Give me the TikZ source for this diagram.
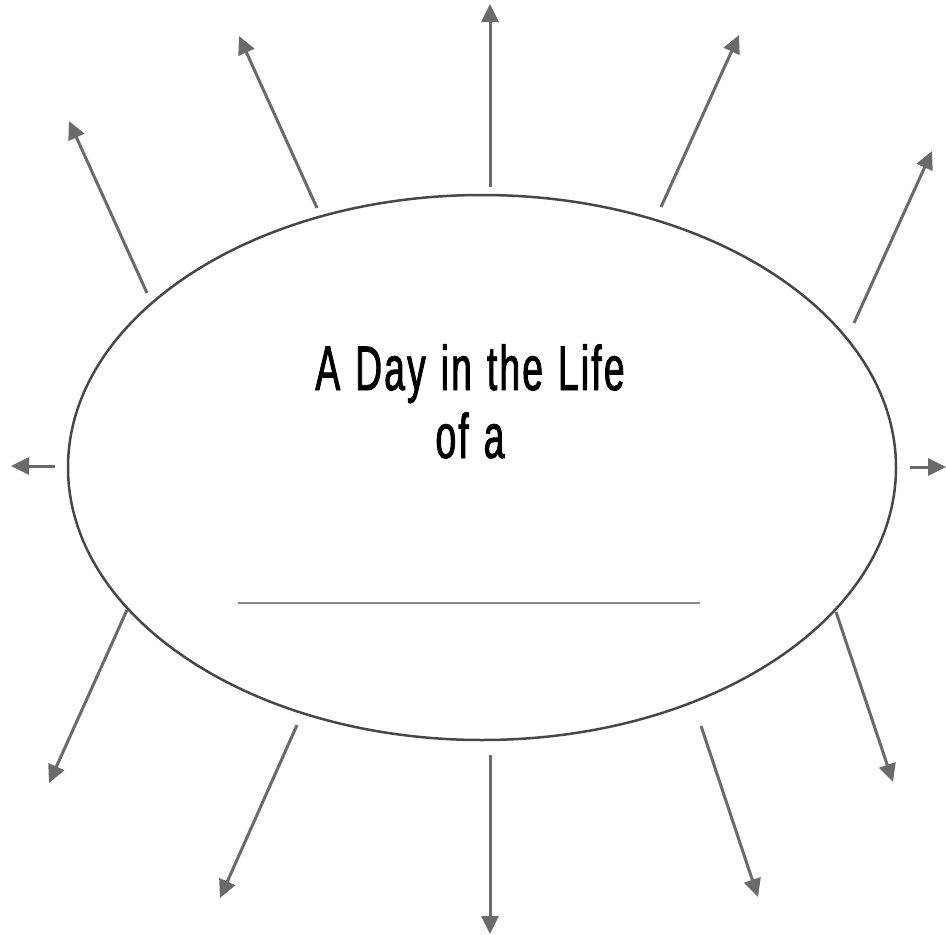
\documentclass[tikz,border=0pt]{standalone}
\usepackage{fontspec}
\setmainfont{Liberation Sans}[FakeStretch=0.59,FakeBold=1.4,LetterSpace=3.5,WordSpace=1.2]
\usetikzlibrary{arrows.meta,shapes.geometric}
\definecolor{arrowgray}{HTML}{6A6A6A}
\definecolor{ringgray}{HTML}{474747}
\definecolor{linegray}{HTML}{8A8A8A}
\begin{document}
\begin{tikzpicture}[x=1pt,y=-1pt,
  ray/.style={draw=arrowgray,line width=3pt,-{Triangle[length=18pt,width=17pt]}},
  title/.style={font=\fontsize{63}{68}\selectfont,anchor=base,inner sep=0}]
\useasboundingbox (0,0) rectangle (946,935);
\node[draw=ringgray,line width=2.5pt,ellipse,minimum width=828pt,minimum height=545pt,inner sep=0] (e) at (482,467.5) {};
\node[title] (t1) at (470,390) {A Day in the Life};
\node[title] (t2) at (470,458) {of a};
\coordinate (u1) at (238,603);
\coordinate (u2) at (700,603);
\draw[linegray,line width=1.6pt] (u1) -- (u2);
% rays
\coordinate (s1) at (490,187);  \coordinate (e1) at (490,4);
\coordinate (s2) at (317,208);  \coordinate (e2) at (239,36);
\coordinate (s3) at (147,293);  \coordinate (e3) at (69,121);
\coordinate (s4) at (55,466);   \coordinate (e4) at (11,466);
\coordinate (s5) at (661,207);  \coordinate (e5) at (739,35);
\coordinate (s6) at (854,323);  \coordinate (e6) at (932,151);
\coordinate (s7) at (910,467);  \coordinate (e7) at (946,467);
\coordinate (s8) at (836,612);  \coordinate (e8) at (893,782);
\coordinate (s9) at (701,726);  \coordinate (e9) at (758,897);
\coordinate (s10) at (490,755); \coordinate (e10) at (490,934);
\coordinate (s11) at (297,725); \coordinate (e11) at (220,898);
\coordinate (s12) at (127,610); \coordinate (e12) at (49,783);
\foreach \i in {1,...,12} {\draw[ray] (s\i) -- (e\i);}
\end{tikzpicture}
\end{document}
